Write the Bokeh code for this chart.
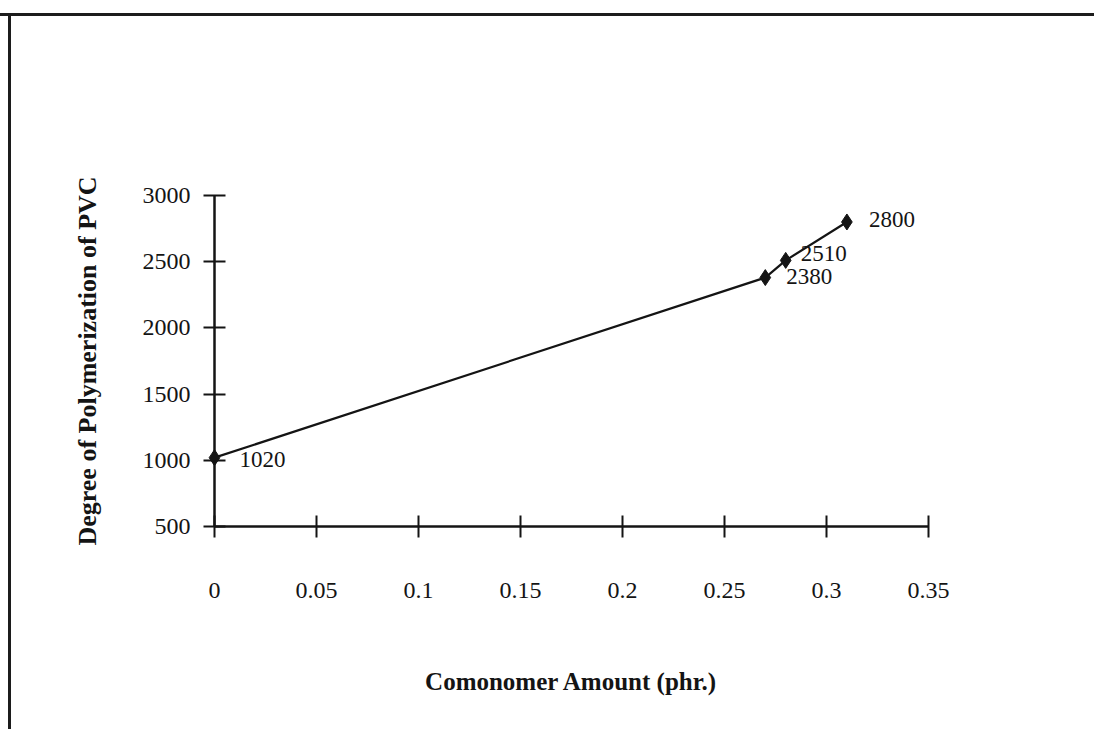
from bokeh.plotting import figure
from bokeh.models import ColumnDataSource, Range1d, FixedTicker
from bokeh.core.properties import value
from bokeh.embed import file_html
from bokeh.resources import INLINE

# ---- data ----
comonomer = [0.0, 0.27, 0.28, 0.31]
degree = [1020, 2380, 2510, 2800]
point_labels = ["1020", "2380", "2510", "2800"]
label_dx = [25, 21, 15, 22]
label_dy = [2, -1, -7, -2]

x_ticks = [0, 0.05, 0.1, 0.15, 0.2, 0.25, 0.3, 0.35]
x_tick_labels = ["0", "0.05", "0.1", "0.15", "0.2", "0.25", "0.3", "0.35"]
y_ticks = [500, 1000, 1500, 2000, 2500, 3000]

x_title = "Comonomer Amount (phr.)"
y_title = "Degree of Polymerization of PVC"

INK = "#141414"
SERIF = "Liberation Serif"

W, H = 1094, 729
p = figure(width=W, height=H, output_backend="svg", toolbar_location=None,
           x_range=Range1d(0, 0.35), y_range=Range1d(500, 3000),
           min_border_left=214, min_border_top=195,
           min_border_right=W - 928, min_border_bottom=H - 526)
p.styles = {
    "background": ("linear-gradient(#1c1c1c, #1c1c1c) 0px 13px / 100% 3px no-repeat, "
                   "linear-gradient(#1c1c1c, #1c1c1c) 8px 13px / 3px 100% no-repeat, white"),
}
p.background_fill_color = None
p.border_fill_color = None
p.outline_line_color = None
p.xgrid.visible = False
p.ygrid.visible = False

for ax in (p.xaxis[0], p.yaxis[0]):
    ax.axis_line_color = INK
    ax.axis_line_width = 2.5
    ax.major_tick_line_color = INK
    ax.major_tick_line_width = 2
    ax.major_tick_in = 11
    ax.major_tick_out = 11
    ax.minor_tick_line_color = None
    ax.major_label_text_font = SERIF
    ax.major_label_text_font_size = "24px"
    ax.major_label_text_color = INK
    ax.axis_label_text_font = SERIF
    ax.axis_label_text_font_style = "bold"
    ax.axis_label_text_color = INK

p.xaxis.ticker = FixedTicker(ticks=x_ticks)
p.xaxis.major_label_overrides = {t: s for t, s in zip(x_ticks, x_tick_labels)}
p.xaxis.major_label_standoff = 45
p.xaxis.axis_label = x_title
p.xaxis.axis_label_text_font_size = "25px"
p.xaxis.axis_label_standoff = 67

p.yaxis.ticker = FixedTicker(ticks=y_ticks)
p.yaxis.major_label_standoff = 13
p.yaxis.axis_label = y_title
p.yaxis.axis_label_text_font_size = "26px"
p.yaxis.axis_label_standoff = 38

src = ColumnDataSource(dict(x=comonomer, y=degree, lab=point_labels,
                            dx=label_dx, dy=label_dy))
p.line("x", "y", source=src, line_color=INK, line_width=2.2, level="annotation")
p.scatter("x", "y", source=src, marker="diamond", size=16,
          fill_color=INK, line_color=INK, level="annotation")
p.text("x", "y", text="lab", source=src, x_offset="dx", y_offset="dy",
       text_font=value(SERIF), text_font_size="23px", text_color=INK,
       text_align="left", text_baseline="middle", level="annotation")

open("out.html", "w").write(file_html(p, INLINE))
